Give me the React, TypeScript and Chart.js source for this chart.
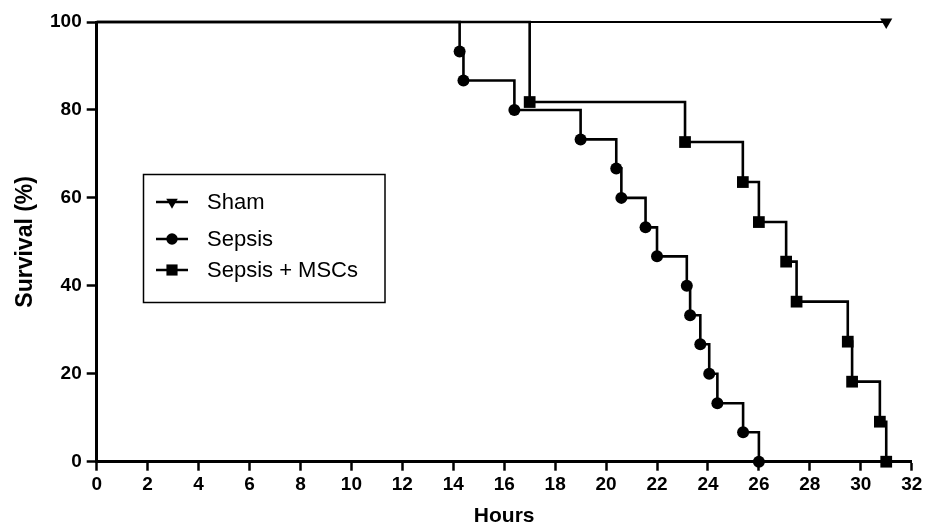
import React, { useEffect, useRef } from "react";
import { Chart, registerables } from "chart.js";
import { drawPoint } from "chart.js/helpers";

Chart.register(...registerables);

// ---- data ----
const xTicks = [0, 2, 4, 6, 8, 10, 12, 14, 16, 18, 20, 22, 24, 26, 28, 30, 32];
const yTicks = [0, 20, 40, 60, 80, 100];

const seriesNames = ["Sham", "Sepsis", "Sepsis + MSCs"];

const hoursSham = [0, 31];
const survSham = [100, 100];

const hoursSepsis = [0, 14.25, 14.4, 16.4, 19.0, 20.4, 20.6, 21.55, 22.0, 23.17, 23.3, 23.7, 24.05, 24.37, 25.38, 26.0];
const survSepsis = [100, 93.3, 86.7, 80, 73.3, 66.7, 60, 53.3, 46.7, 40, 33.3, 26.7, 20, 13.3, 6.7, 0];

const hoursMSC = [0, 17.0, 23.1, 25.37, 26.0, 27.07, 27.48, 29.49, 29.66, 30.75, 31.0];
const survMSC = [100, 81.8, 72.7, 63.6, 54.5, 45.5, 36.4, 27.3, 18.2, 9.1, 0];

const FONT = "'Liberation Sans', Arial, Helvetica, sans-serif";

const toPoints = (xs: number[], ys: number[]) => xs.map((x, i) => ({ x, y: ys[i] }));

const markerStyles = [
  { pointStyle: "triangle", radius: 7, rotation: 180 },
  { pointStyle: "circle", radius: 6, rotation: 0 },
  { pointStyle: "rect", radius: 8.3, rotation: 0 },
];

const legendBoxPlugin = {
  id: "legendBox",
  afterDraw(chart: any) {
    const ctx = chart.ctx;
    ctx.save();
    ctx.strokeStyle = "#000";
    ctx.lineWidth = 1.5;
    ctx.strokeRect(143.5, 174.5, 241.5, 128);
    const rows = [202, 239, 270];
    chart.data.datasets.forEach((ds: any, i: number) => {
      const y = rows[i];
      ctx.strokeStyle = "#000";
      ctx.lineWidth = 2.5;
      ctx.beginPath();
      ctx.moveTo(156, y);
      ctx.lineTo(188, y);
      ctx.stroke();
      ctx.fillStyle = "#000";
      const m = markerStyles[i];
      drawPoint(ctx, { pointStyle: m.pointStyle, radius: m.radius * 0.95, rotation: m.rotation, borderWidth: 0 } as any, 172, y);
      ctx.fillStyle = "#000";
      ctx.font = `22px ${FONT}`;
      ctx.textBaseline = "middle";
      ctx.textAlign = "left";
      ctx.fillText(ds.label, 207, y + 1);
    });
    ctx.restore();
  },
};

export default function App() {
  const ref = useRef<HTMLCanvasElement | null>(null);

  useEffect(() => {
    if (!ref.current) return;
    const mk = (i: number, xs: number[], ys: number[]) => ({
      label: seriesNames[i],
      data: toPoints(xs, ys),
      stepped: "before" as const,
      borderColor: "#000",
      backgroundColor: "#000",
      borderWidth: i === 0 ? 2.2 : 2.6,
      pointStyle: markerStyles[i].pointStyle,
      pointRotation: markerStyles[i].rotation,
      pointRadius: (c: any) => (c.dataIndex === 0 ? 0 : markerStyles[i].radius),
      pointBorderWidth: 0,
      pointBackgroundColor: "#000",
      pointBorderColor: "#000",
      clip: false as any,
      fill: false,
    });
    const chart = new Chart(ref.current, {
      type: "line",
      data: {
        datasets: [
          mk(0, hoursSham, survSham),
          mk(1, hoursSepsis, survSepsis),
          mk(2, hoursMSC, survMSC),
        ],
      },
      options: {
        animation: false,
        responsive: false,
        devicePixelRatio: 1,
        layout: { padding: { left: 0, right: 21.3, top: 22, bottom: 0 } },
        plugins: { legend: { display: false }, tooltip: { enabled: false } },
        scales: {
          x: {
            type: "linear",
            min: 0,
            max: 32,
            afterBuildTicks: (s: any) => {
              s.ticks = xTicks.map((v) => ({ value: v }));
            },
            afterFit: (s: any) => {
              s.height = 67.3;
            },
            ticks: {
              color: "#000",
              font: { family: FONT, size: 19, weight: "bold" },
              padding: 3,
              maxRotation: 0,
              autoSkip: false,
            },
            grid: {
              drawOnChartArea: false,
              drawTicks: true,
              tickLength: 9,
              tickWidth: 2.5,
              tickColor: "#000",
            },
            border: { color: "#000", width: 3 },
            title: {
              display: true,
              text: "Hours",
              color: "#000",
              font: { family: FONT, size: 21, weight: "bold" },
              padding: { top: 0, bottom: 0 },
            },
          },
          y: {
            type: "linear",
            min: 0,
            max: 100,
            afterBuildTicks: (s: any) => {
              s.ticks = yTicks.map((v) => ({ value: v }));
            },
            afterFit: (s: any) => {
              s.width = 96.7;
            },
            ticks: {
              color: "#000",
              font: { family: FONT, size: 19, weight: "bold" },
              padding: 5,
            },
            grid: {
              drawOnChartArea: false,
              drawTicks: true,
              tickLength: 10,
              tickWidth: 2.5,
              tickColor: "#000",
            },
            border: { color: "#000", width: 3 },
            title: {
              display: true,
              text: "Survival (%)",
              color: "#000",
              font: { family: FONT, size: 23, weight: "bold" },
              padding: { top: 12, bottom: 0 },
            },
          },
        },
      },
      plugins: [legendBoxPlugin],
    } as any);
    return () => chart.destroy();
  }, []);

  return (
    <div style={{ position: "absolute", left: 0, top: 0, width: 933, height: 529, background: "#fff" }}>
      <canvas ref={ref} width={933} height={529} style={{ width: 933, height: 529, display: "block" }} />
    </div>
  );
}
